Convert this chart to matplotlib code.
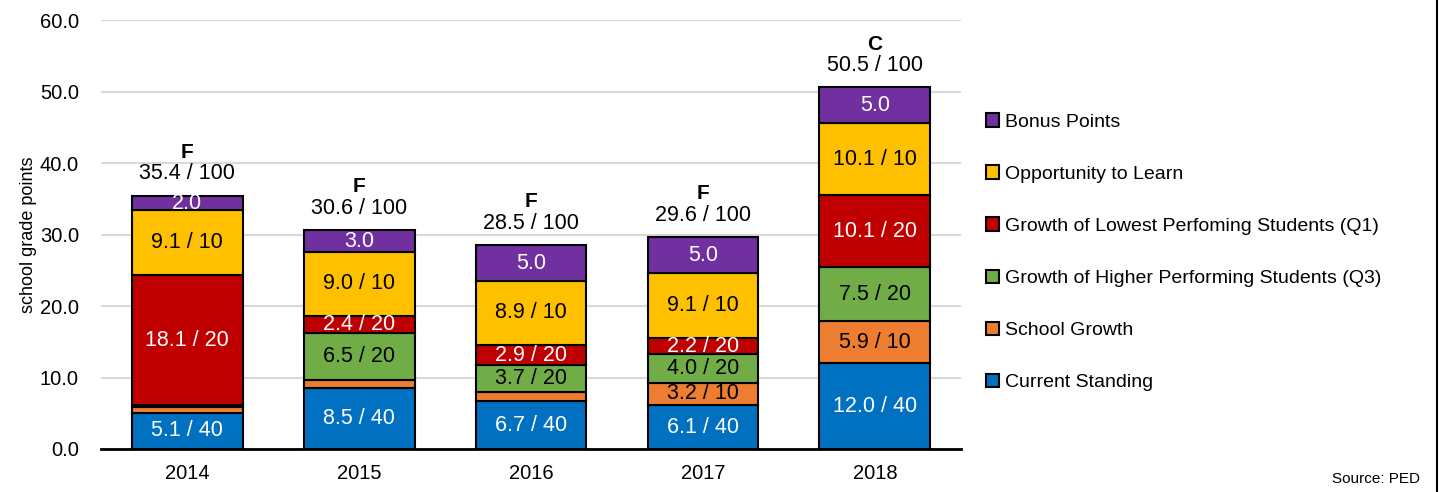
import matplotlib.pyplot as plt
import numpy as np
from matplotlib.lines import Line2D

plt.rcParams['font.family'] = ['Liberation Sans', 'DejaVu Sans']

years = ['2014', '2015', '2016', '2017', '2018']
current_standing = [5.1, 8.5, 6.7, 6.1, 12.0]
school_growth = [0.8, 1.2, 1.3, 3.2, 5.9]
growth_q3 = [0.3, 6.5, 3.7, 4.0, 7.5]
growth_q1 = [18.1, 2.4, 2.9, 2.2, 10.1]
opportunity = [9.1, 9.0, 8.9, 9.1, 10.1]
bonus = [2.0, 3.0, 5.0, 5.0, 5.0]
totals = [35.4, 30.6, 28.5, 29.6, 50.5]
grades = ['F', 'F', 'F', 'F', 'C']

# label text per segment (None = no label)
cs_labels = ['5.1 / 40', '8.5 / 40', '6.7 / 40', '6.1 / 40', '12.0 / 40']
sg_labels = [None, None, None, '3.2 / 10', '5.9 / 10']
q3_labels = [None, '6.5 / 20', '3.7 / 20', '4.0 / 20', '7.5 / 20']
q1_labels = ['18.1 / 20', '2.4 / 20', '2.9 / 20', '2.2 / 20', '10.1 / 20']
otl_labels = ['9.1 / 10', '9.0 / 10', '8.9 / 10', '9.1 / 10', '10.1 / 10']
bonus_labels = ['2.0', '3.0', '5.0', '5.0', '5.0']

series = [
    ('Current Standing', current_standing, '#0070c0', 'white', cs_labels),
    ('School Growth', school_growth, '#ed7d31', 'black', sg_labels),
    ('Growth of Higher Performing Students (Q3)', growth_q3, '#70ad47', 'black', q3_labels),
    ('Growth of Lowest Perfoming Students (Q1)', growth_q1, '#c00000', 'white', q1_labels),
    ('Opportunity to Learn', opportunity, '#ffc000', 'black', otl_labels),
    ('Bonus Points', bonus, '#7030a0', 'white', bonus_labels),
]

fig = plt.figure(figsize=(14.45, 4.92), dpi=100)
ax = fig.add_axes([0.07, 0.0874, 0.595, 0.8716])

x = np.arange(len(years))
bottom = np.zeros(len(years))
handles = []
for name, vals, color, tcolor, labels in series:
    vals = np.array(vals)
    bars = ax.bar(x, vals, 0.645, bottom=bottom, color=color, edgecolor='black',
                  linewidth=1.5, label=name, zorder=3)
    for i, lab in enumerate(labels):
        if lab:
            ax.text(x[i], bottom[i] + vals[i] / 2, lab, ha='center', va='center',
                    color=tcolor, fontsize=15.5, zorder=4)
    handles.append(bars)
    bottom = bottom + vals

for i in range(len(years)):
    ax.text(x[i], totals[i] + 3.1, f'{totals[i]:.1f} / 100', ha='center', va='center',
            fontsize=15.5)
    ax.text(x[i], totals[i] + 6.1, grades[i], ha='center', va='center',
            fontsize=15, fontweight='bold')

ax.set_xlim(-0.5, 4.5)
ax.set_ylim(0, 60)
ax.set_yticks(np.arange(0, 61, 10))
ax.set_yticklabels([f'{v:.1f}' for v in np.arange(0, 61, 10)], fontsize=14.5)
ax.set_xticks(x)
ax.set_xticklabels(years, fontsize=14.5)
ax.tick_params(axis='y', length=0, pad=16)
ax.tick_params(axis='x', length=0, pad=11)
ax.yaxis.grid(True, color='#d9d9d9', linewidth=1.5, zorder=0)
ax.set_axisbelow(True)
for s in ['top', 'right', 'left']:
    ax.spines[s].set_visible(False)
ax.spines['bottom'].set_linewidth(2)
ax.set_ylabel('school grade points', fontsize=13, labelpad=2)

leg = fig.legend(handles[::-1], [s[0] for s in series[::-1]], loc='upper left',
                 bbox_to_anchor=(0.67, 0.805), frameon=False, fontsize=14,
                 labelspacing=1.77, handlelength=0.7, handleheight=0.7,
                 handletextpad=0.3)
for h in leg.legend_handles:
    h.set_linewidth(1.5)

fig.text(0.983, 0.012, 'Source: PED', ha='right', va='bottom', fontsize=11)
fig.add_artist(Line2D([0.9945, 0.9945], [0, 1], color='black', linewidth=1.5,
                      transform=fig.transFigure))

fig.savefig('out.png', dpi=100)
